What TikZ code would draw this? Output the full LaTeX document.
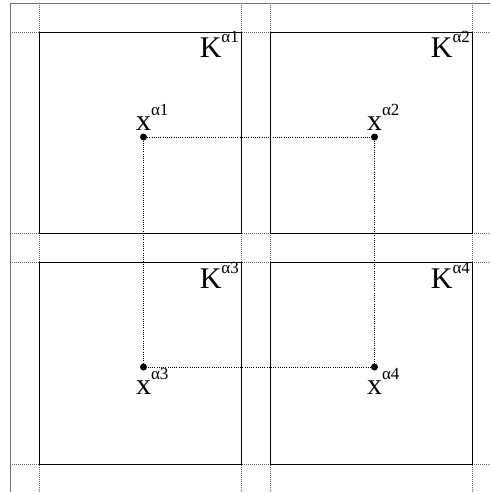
\documentclass[tikz,border=0pt]{standalone}
\usepackage{fontspec}
\setmainfont{Liberation Serif}
\newcommand\bigtxt{\fontsize{30}{30}\selectfont}
\newcommand\suptxt{\fontsize{17}{17}\selectfont}
\newcommand\klab[1]{{\bigtxt K}\raisebox{15pt}{\suptxt α#1}}
\newcommand\xlab[1]{{\bigtxt x}\rlap{\raisebox{15pt}{\suptxt α#1}}}
\begin{document}
\begin{tikzpicture}[x=1pt,y=-1pt,
  frameline/.style={draw=black!55,line width=0.9pt},
  gridline/.style={draw=black!60,line width=0.6pt,dash pattern=on 0.8pt off 1.2pt},
  cellbox/.style={draw=black,line width=1.1pt,inner sep=0,minimum width=202pt,minimum height=201pt},
  ptdot/.style={circle,fill=black,inner sep=0,minimum size=7pt},
  link/.style={draw=black,line width=0.6pt,dash pattern=on 0.8pt off 1.4pt},
  lab/.style={inner sep=0}]
\useasboundingbox (0,0) rectangle (490,492);
% frame
\coordinate (ftl) at (10,3);
\coordinate (ftr) at (490,3);
\coordinate (fbl) at (10,492);
\draw[frameline] (ftr) -- (ftl) -- (fbl);
% grid guides
\foreach \gx in {39,241,270,472} {
  \coordinate (gt\gx) at (\gx,3);
  \coordinate (gb\gx) at (\gx,492);
  \draw[gridline] (gt\gx) -- (gb\gx);
}
\foreach \gy in {32,233,262,464} {
  \coordinate (gl\gy) at (10,\gy);
  \coordinate (gr\gy) at (490,\gy);
  \draw[gridline] (gl\gy) -- (gr\gy);
}
% cells
\node[cellbox,fill=white,anchor=north west] (k1) at (39,32) {};
\node[cellbox,fill=white,anchor=north west,minimum width=202pt] (k2) at (270,32) {};
\node[cellbox,fill=white,anchor=north west,minimum height=202pt] (k3) at (39,262) {};
\node[cellbox,fill=white,anchor=north west,minimum width=202pt,minimum height=202pt] (k4) at (270,262) {};
% cell labels
\node[lab,anchor=base east] (kl1) at ([xshift=-3pt,yshift=-26pt]k1.north east) {\klab{1}};
\node[lab,anchor=base east] (kl2) at ([xshift=-3pt,yshift=-26pt]k2.north east) {\klab{2}};
\node[lab,anchor=base east] (kl3) at ([xshift=-3pt,yshift=-26pt]k3.north east) {\klab{3}};
\node[lab,anchor=base east] (kl4) at ([xshift=-3pt,yshift=-26pt]k4.north east) {\klab{4}};
% points
\node[ptdot] (p1) at (143.5,137) {};
\node[ptdot] (p2) at (374.5,137) {};
\node[ptdot] (p3) at (143.5,367) {};
\node[ptdot] (p4) at (374.5,367) {};
\draw[link] (p1) -- (p2);
\draw[link] (p2) -- (p4);
\draw[link] (p4) -- (p3);
\draw[link] (p3) -- (p1);
% point labels
\node[lab,anchor=base] (xl1) at (143.5,131) {\xlab{1}};
\node[lab,anchor=base] (xl2) at (374.5,131) {\xlab{2}};
\node[lab,anchor=base] (xl3) at (143.5,394) {\xlab{3}};
\node[lab,anchor=base] (xl4) at (374.5,394) {\xlab{4}};
\end{tikzpicture}
\end{document}
